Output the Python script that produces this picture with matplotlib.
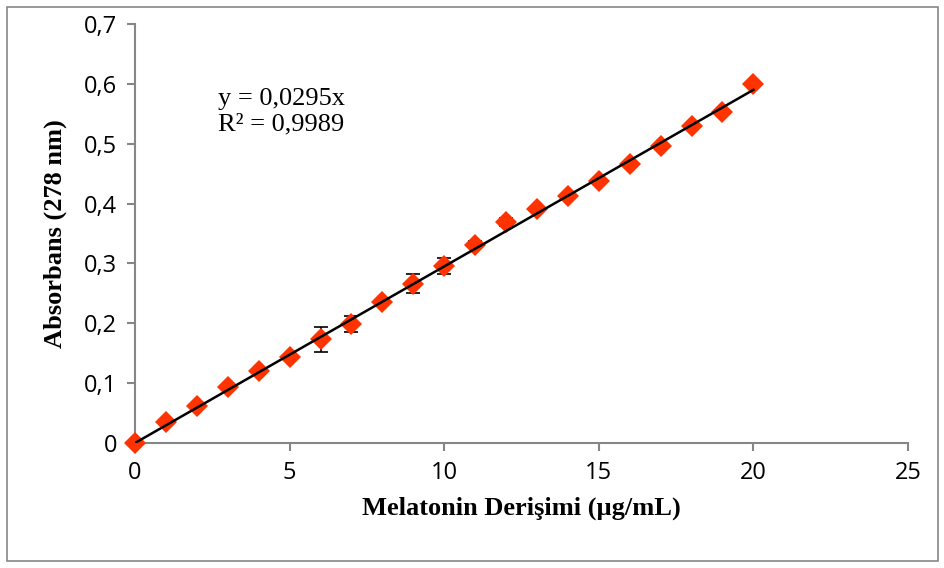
import matplotlib
matplotlib.use("Agg")
import matplotlib.pyplot as plt
import numpy as np
from matplotlib.ticker import FuncFormatter
from matplotlib.patches import Rectangle

# melatonin concentration (ug/mL) vs absorbance at 278 nm
conc = [0, 1, 2, 3, 4, 5, 6, 7, 8, 9, 10, 11, 12, 13, 14, 15, 16, 17, 18, 19, 20]
absb = [0.000, 0.035, 0.062, 0.094, 0.120, 0.144, 0.173, 0.199, 0.236, 0.266, 0.296,
        0.331, 0.369, 0.391, 0.413, 0.438, 0.466, 0.496, 0.530, 0.553, 0.600]
err = [0, 0.002, 0.002, 0.002, 0.002, 0.003, 0.021, 0.013, 0.003, 0.016, 0.013,
       0.006, 0.007, 0.003, 0.002, 0.002, 0.003, 0.003, 0.002, 0.002, 0.002]
slope = 0.0295
r2 = 0.9989

fig = plt.figure(figsize=(9.45, 5.68), dpi=100)
ax = fig.add_axes([135/945, 125/568, 773/945, 419/568])

ax.errorbar(conc, absb, yerr=err, fmt='none', ecolor='black', elinewidth=1.2, capsize=5, capthick=1.2, zorder=2)
ax.plot(conc, absb, 'D', color='#FF3300', markersize=11, markeredgewidth=0, zorder=3, clip_on=False)
xf = np.array([conc[0], conc[-1]])
ax.plot(xf, slope*xf, color='black', lw=1.8, zorder=4)

ax.set_xlim(0, 25)
ax.set_ylim(0, 0.7)
ax.set_xticks(range(0, 26, 5))
ax.set_yticks(np.arange(0, 0.71, 0.1))
ax.yaxis.set_major_formatter(FuncFormatter(lambda v, p: '0' if abs(v) < 1e-9 else ('%.1f' % v).replace('.', ',')))

for s in ['top', 'right']:
    ax.spines[s].set_visible(False)
for s in ['left', 'bottom']:
    ax.spines[s].set_color('#868686')
    ax.spines[s].set_linewidth(1.5)
ax.tick_params(direction='out', length=6, width=1.5, color='#868686', labelsize=17, pad=7)
for lab in ax.get_xticklabels() + ax.get_yticklabels():
    lab.set_family('Open Sans')

ax.set_xlabel('Melatonin Derişimi (µg/mL)', family='Liberation Serif', weight='bold', fontsize=19, labelpad=8)
ax.set_ylabel('Absorbans (278 nm)', family='Liberation Serif', weight='bold', fontsize=19, labelpad=12)

ax.text(0.107, 0.735, f'y = {slope:.4f}x\nR² = {r2:.4f}'.replace('.', ','), transform=ax.transAxes,
        family='Liberation Serif', fontsize=19, va='bottom', linespacing=1.2)

fig.patches.append(Rectangle((7/945, 7/568), 931/945, 554/568, transform=fig.transFigure,
                             fill=False, edgecolor='#868686', lw=1.2))

fig.savefig('out.png', dpi=100)
